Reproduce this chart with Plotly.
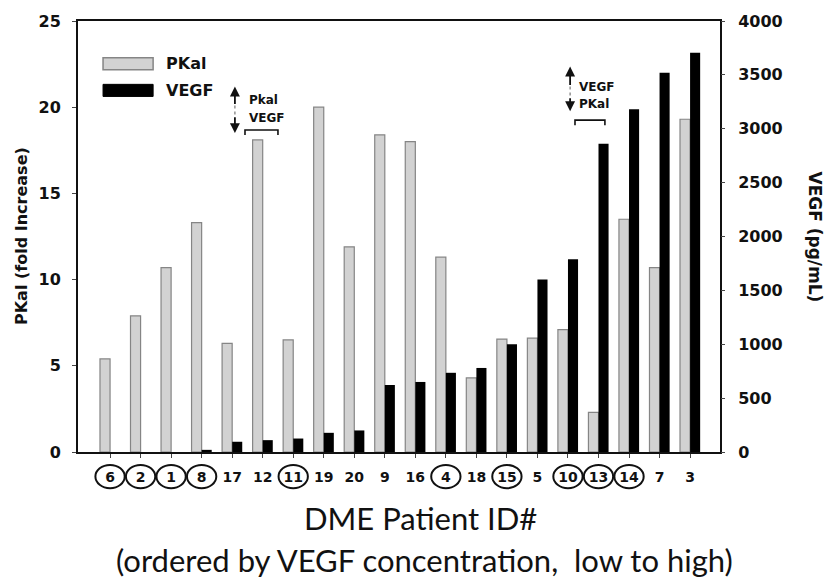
import plotly.graph_objects as go

# Patients ordered by VEGF concentration (low to high)
patient_ids = ["6", "2", "1", "8", "17", "12", "11", "19", "20", "9",
               "16", "4", "18", "15", "5", "10", "13", "14", "7", "3"]
pkal_fold = [5.4, 7.9, 10.7, 13.3, 6.3, 18.1, 6.5, 20.0, 11.9, 18.4,
             18.0, 11.3, 4.3, 6.55, 6.6, 7.1, 2.3, 13.5, 10.7, 19.3]
vegf_pgml = [0, 0, 0, 20, 95, 110, 125, 178, 200, 622,
             650, 735, 780, 1000, 1600, 1790, 2860, 3180, 3520, 3705]
circled_ids = ["6", "2", "1", "8", "11", "4", "15", "10", "13", "14"]

pkal_ticks = [0, 5, 10, 15, 20, 25]
vegf_ticks = [0, 500, 1000, 1500, 2000, 2500, 3000, 3500, 4000]

Y_TICK_FONT = dict(family="DejaVu Sans", size=16, color="#111", weight="bold")
X_TICK_FONT = dict(family="DejaVu Sans", size=14, color="#111", weight="bold")
GRAY_FILL = "#d2d2d2"
GRAY_LINE = "#858585"

fig = go.Figure()
fig.add_trace(go.Bar(
    x=patient_ids, y=pkal_fold, name="PKal", yaxis="y",
    width=0.33, offset=-0.33,
    marker=dict(color=GRAY_FILL, line=dict(color=GRAY_LINE, width=1.2)),
))
fig.add_trace(go.Bar(
    x=patient_ids, y=vegf_pgml, name="VEGF", yaxis="y2",
    width=0.33, offset=0.0,
    marker=dict(color="#000000", line=dict(width=0)),
))

shapes = []
annotations = []

# circles around selected patient IDs on the x axis
for i, pid in enumerate(patient_ids):
    if pid in circled_ids:
        shapes.append(dict(type="circle", xref="x", yref="paper",
                           x0=i - 0.48, x1=i + 0.48, y0=-0.084, y1=-0.030,
                           line=dict(color="#111", width=2)))

# legend drawn as wide swatches
shapes += [
    dict(type="rect", xref="paper", yref="paper", x0=0.039, x1=0.117,
         y0=0.887, y1=0.915, fillcolor=GRAY_FILL,
         line=dict(color=GRAY_LINE, width=1.5)),
    dict(type="rect", xref="paper", yref="paper", x0=0.039, x1=0.117,
         y0=0.825, y1=0.853, fillcolor="#000", line=dict(color="#000", width=1)),
]
for label, yy in [("PKal", 0.901), ("VEGF", 0.839)]:
    annotations.append(dict(text=label, xref="paper", yref="paper", x=0.134, y=yy,
                            xanchor="left", yanchor="middle", showarrow=False,
                            font=dict(family="DejaVu Sans", size=16, color="#111",
                                      weight="bold")))


def trend_marker(xi, y_up_tip, y_up_tail, y_dn_tail, y_dn_tip, top_text, bottom_text,
                 text_x, top_y, bottom_y, br_x0, br_x1, br_y, br_drop):
    """Up/down arrow pair with two labels and a bracket above a bar pair."""
    arrow = dict(xref="x", yref="y", axref="x", ayref="y", showarrow=True,
                 arrowhead=2, arrowsize=1.1, arrowwidth=1.8, arrowcolor="#111", text="")
    annotations.append(dict(arrow, x=xi, y=y_up_tip, ax=xi, ay=y_up_tail))
    annotations.append(dict(arrow, x=xi, y=y_dn_tip, ax=xi, ay=y_dn_tail))
    shapes.append(dict(type="line", xref="x", yref="y", x0=xi, x1=xi,
                       y0=y_up_tail, y1=y_dn_tail,
                       line=dict(color="#777", width=1.2, dash="dot")))
    for txt, yy in [(top_text, top_y), (bottom_text, bottom_y)]:
        annotations.append(dict(text=txt, xref="x", yref="y", x=text_x, y=yy,
                                xanchor="left", yanchor="middle", showarrow=False,
                                font=dict(family="DejaVu Sans", size=12, color="#111",
                                          weight="bold")))
    shapes.append(dict(type="path", xref="x", yref="y",
                       path=f"M {br_x0} {br_y - br_drop} L {br_x0} {br_y} "
                            f"L {br_x1} {br_y} L {br_x1} {br_y - br_drop}",
                       line=dict(color="#111", width=1.6)))


# patient 12: PKal up, VEGF down
i12 = patient_ids.index("12")
trend_marker(i12 - 0.91, 21.2, 20.1, 19.5, 18.5, "Pkal", "VEGF",
             i12 - 0.52, 20.4, 19.35, i12 - 0.58, i12 + 0.5, 18.68, 0.29)
# patient 13: VEGF up, PKal down
i13 = patient_ids.index("13")
trend_marker(i13 - 0.93, 22.36, 21.2, 20.6, 19.77, "VEGF", "PKal",
             i13 - 0.7, 21.2, 20.17, i13 - 0.77, i13 + 0.21, 19.25, 0.29)

# axis titles
annotations += [
    dict(text="PKal (fold Increase)", xref="paper", yref="paper", x=-0.088, y=0.50,
         textangle=-90, showarrow=False, xanchor="center", yanchor="middle",
         font=dict(family="DejaVu Sans", size=16, color="#111", weight="bold")),
    dict(text="VEGF (pg/mL)", xref="paper", yref="paper", x=1.148, y=0.50,
         textangle=90, showarrow=False, xanchor="center", yanchor="middle",
         font=dict(family="DejaVu Sans", size=17, color="#111", weight="bold")),
    dict(text="DME Patient ID#", xref="paper", yref="paper", x=0.533, y=-0.154,
         showarrow=False, xanchor="center", yanchor="middle",
         font=dict(family="Lato", size=31, color="#111")),
    dict(text="(ordered by VEGF concentration,&nbsp; low to high)", xref="paper",
         yref="paper", x=0.539, y=-0.251, showarrow=False, xanchor="center",
         yanchor="middle", font=dict(family="Lato", size=31, color="#111")),
]

fig.update_layout(
    width=828, height=583,
    margin=dict(l=78, r=108, t=17, b=131),
    paper_bgcolor="white", plot_bgcolor="white",
    showlegend=False, barmode="overlay",
    shapes=shapes, annotations=annotations,
    xaxis=dict(type="category", categoryorder="array", categoryarray=patient_ids,
               range=[-1.05, 19.98], showline=True, mirror=True, linecolor="#111",
               linewidth=2, ticks="outside", ticklen=4, tickcolor="#444",
               tickfont=X_TICK_FONT, showgrid=False, ticklabelstandoff=7),
    yaxis=dict(range=[0, 25], tickvals=pkal_ticks, showline=True, mirror=True,
               linecolor="#111", linewidth=2, ticks="outside", ticklen=4,
               tickcolor="#444", tickfont=Y_TICK_FONT, showgrid=False, zeroline=False,
               ticklabelstandoff=8),
    yaxis2=dict(range=[0, 4000], tickvals=vegf_ticks, overlaying="y", side="right",
                showline=False, ticks="outside", ticklen=4, tickcolor="#444",
                tickfont=Y_TICK_FONT, showgrid=False, zeroline=False,
                ticklabelstandoff=10),
)

fig.write_html("out.html")
